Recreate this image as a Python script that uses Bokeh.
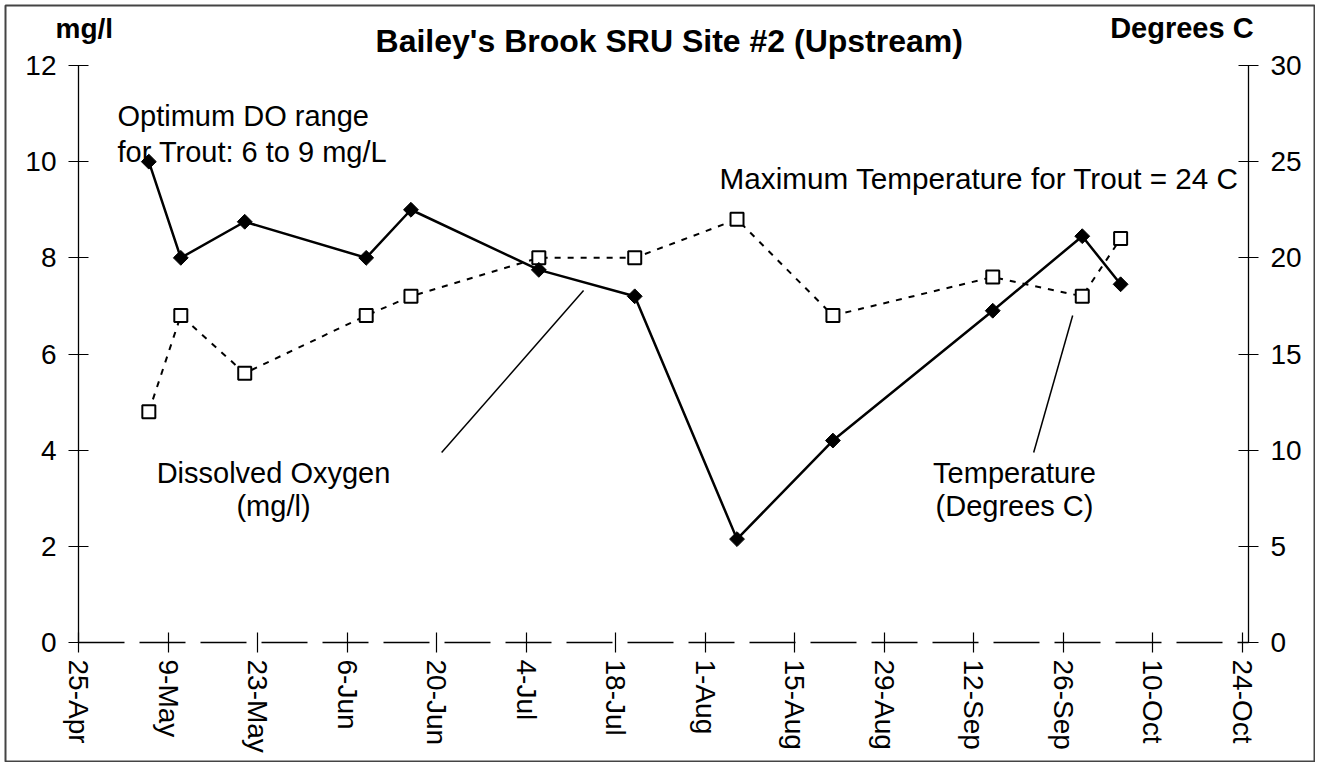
import numpy as np
import pandas as pd
from bokeh.plotting import figure
from bokeh.models import Range1d, LinearAxis, FixedTicker, Label
from bokeh.embed import file_html
from bokeh.resources import INLINE

# ---------------- data ----------------
sample_dates = ["2001-05-06", "2001-05-11", "2001-05-21", "2001-06-09", "2001-06-16",
                "2001-07-06", "2001-07-21", "2001-08-06", "2001-08-21", "2001-09-15",
                "2001-09-29", "2001-10-05"]
do_mgl = [10.0, 8.0, 8.75, 8.0, 9.0, 7.75, 7.2, 2.15, 4.2, 6.9, 8.45, 7.45]
temp_c = [12, 17, 14, 17, 18, 20, 20, 22, 17, 19, 18, 21]

tick_dates = ["2001-04-25", "2001-05-09", "2001-05-23", "2001-06-06", "2001-06-20",
              "2001-07-04", "2001-07-18", "2001-08-01", "2001-08-15", "2001-08-29",
              "2001-09-12", "2001-09-26", "2001-10-10", "2001-10-24"]
tick_labels = ["25-Apr", "9-May", "23-May", "6-Jun", "20-Jun", "4-Jul", "18-Jul",
               "1-Aug", "15-Aug", "29-Aug", "12-Sep", "26-Sep", "10-Oct", "24-Oct"]
do_ticks = [0, 2, 4, 6, 8, 10, 12]
temp_ticks = [0, 5, 10, 15, 20, 25, 30]

FONT = "Liberation Sans"


def ms(s):
    return int(pd.Timestamp(s).value // 10**6)


DAY = 86400000
x_start = ms("2001-04-25")
x_end = ms("2001-10-25")


def xd(days):
    return x_start + days * DAY


xs = [ms(d) for d in sample_dates]

Y_MIN, Y_MAX = -2.475, 13.248
p = figure(width=1311, height=758, x_axis_type="datetime",
           x_range=Range1d(xd(-11.418), xd(193.325)), y_range=Range1d(Y_MIN, Y_MAX),
           output_backend="svg", toolbar_location=None,
           min_border_left=1, min_border_right=1, min_border_top=1, min_border_bottom=1,
           background_fill_color="white", border_fill_color="white",
           outline_line_color="#444444", outline_line_width=2)
p.styles = {"margin-left": "4px", "margin-top": "4px"}
p.extra_y_ranges = {"temp": Range1d(Y_MIN * 2.5, Y_MAX * 2.5)}
p.xgrid.visible = False
p.ygrid.visible = False

# x axis (drawn at DO = 0)
xa = p.xaxis[0]
xa.ticker = FixedTicker(ticks=[ms(d) for d in tick_dates])
xa.major_label_overrides = {ms(d): lab for d, lab in zip(tick_dates, tick_labels)}
xa.major_label_orientation = "vertical"
xa.axis_line_dash = "46 15"
xa.fixed_location = 0
xa.bounds = (x_start, x_end)

# left axis
ya = p.yaxis[0]
ya.ticker = FixedTicker(ticks=do_ticks)
ya.fixed_location = x_start
ya.bounds = (0, 12)

# right axis
ra = LinearAxis(y_range_name="temp", ticker=FixedTicker(ticks=temp_ticks))
ra.fixed_location = x_end
ra.bounds = (0, 30)
p.add_layout(ra, "right")

for ax in (xa, ya, ra):
    ax.axis_line_color = "black"
    ax.axis_line_width = 1.3
    ax.major_tick_line_color = "black"
    ax.major_tick_line_width = 1.2
    ax.major_tick_in = 10
    ax.major_tick_out = 10
    ax.minor_tick_line_color = None
    ax.major_label_text_font = FONT
    ax.major_label_text_font_size = "28px"
    ax.major_label_text_color = "black"
xa.major_label_standoff = 7
ya.major_label_standoff = 12
ra.major_label_standoff = 12

# temperature series (right axis)
p.line(xs, temp_c, y_range_name="temp", line_color="black", line_width=2, line_dash="6 7")
p.scatter(xs, temp_c, y_range_name="temp", marker="square", size=13,
          fill_color="white", line_color="black", line_width=2)

# dissolved oxygen series (left axis)
p.line(xs, do_mgl, line_color="black", line_width=2.5)
p.scatter(xs, do_mgl, marker="square", angle=np.pi / 4, size=10.5,
          fill_color="black", line_color="black")

# leader lines
p.line([xd(56.8), xd(79.0)], [3.95, 7.32], line_color="black", line_width=1.5)
p.line([xd(149.4), xd(155.5)], [3.95, 6.80], line_color="black", line_width=1.5)


def lab(x, y, text, size="29px", align="left", bold=False):
    p.add_layout(Label(x=x, y=y + 0.2, text=text, text_font=FONT, text_font_size=size,
                       text_align=align, text_baseline="alphabetic", text_color="black",
                       text_font_style="bold" if bold else "normal"))


lab(xd(92.4), 12.31, "Bailey's Brook SRU Site #2 (Upstream)", size="32px", align="center", bold=True)
lab(xd(-3.6), 12.56, "mg/l", size="28px", bold=True)
lab(xd(183.8), 12.58, "Degrees C", size="29px", align="right", bold=True)
lab(xd(6.1), 10.74, "Optimum DO range")
lab(xd(6.1), 10.01, "for Trout: 6 to 9 mg/L")
lab(xd(140.9), 9.44, "Maximum Temperature for Trout = 24 C", size="29.7px", align="center")
lab(xd(30.5), 3.33, "Dissolved Oxygen", align="center")
lab(xd(30.5), 2.64, "(mg/l)", align="center")
lab(xd(146.4), 3.33, "Temperature", align="center")
lab(xd(146.4), 2.64, "(Degrees C)", align="center")

open("out.html", "w").write(file_html(p, INLINE))
